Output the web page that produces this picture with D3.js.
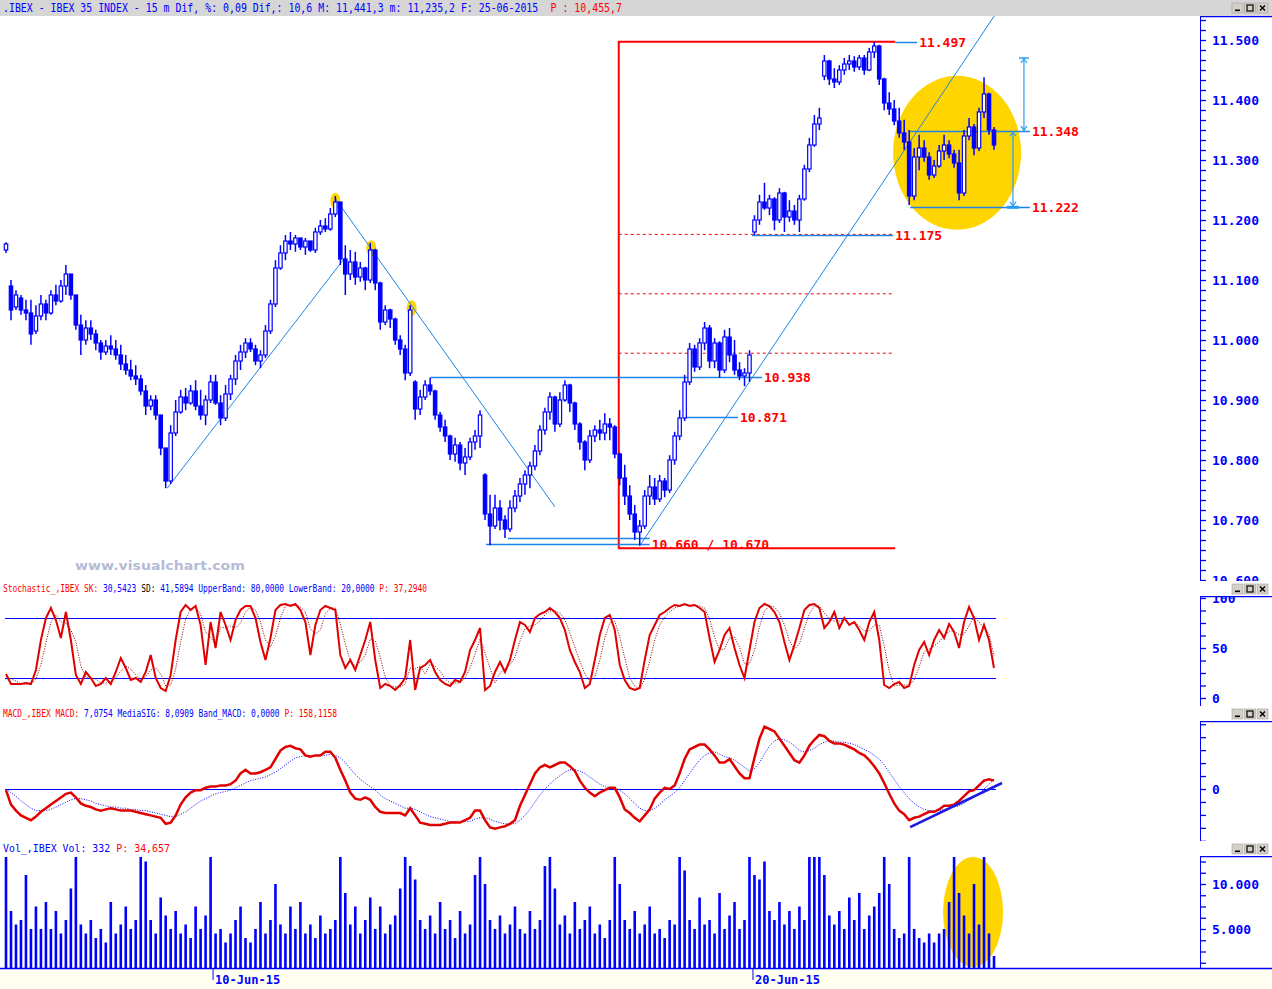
<!DOCTYPE html>
<html>
<head>
<meta charset="utf-8">
<script src="https://cdn.jsdelivr.net/npm/d3@7"></script>
<style>
  body { margin: 0; background: #fff; }
  svg { display: block; }
</style>
</head>
<body>
<svg id="chart" width="1272" height="989"></svg>
<script>
// ---- price bars (15 min, IBEX 35) ----
const opens = [11150,11090,11055,11070,11050,11045,11015,11040,11060,11045,11075,11065,11090,11110,11075,11025,11000,11020,11010,10995,
10980,10990,10985,10975,10960,10950,10940,10935,10915,10890,10900,10875,10820,10765,10845,10880,10905,10895,10915,10890,
10875,10900,10930,10895,10870,10910,10935,10965,10980,10995,10985,10965,10975,11015,11060,11120,11145,11165,11160,11170,
11155,11165,11150,11180,11190,11185,11210,11230,11135,11110,11130,11105,11120,11100,11150,11095,11030,11050,11035,11000,
10985,10945,10930,10885,10905,10925,10915,10875,10855,10840,10810,10825,10795,10805,10830,10840,10775,10710,10690,10720,
10700,10685,10720,10740,10760,10775,10790,10815,10850,10880,10905,10860,10900,10925,10895,10860,10830,10800,10840,10850,
10845,10860,10855,10810,10770,10740,10710,10680,10690,10740,10755,10735,10765,10750,10800,10840,10870,10930,10985,10955,
10995,11020,10965,10995,10950,11005,10975,10950,10940,10945,11180,11200,11230,11220,11235,11200,11245,11205,11215,11200,
11235,11285,11325,11360,11440,11465,11435,11430,11450,11460,11465,11455,11470,11450,11480,11490,11435,11395,11385,11365,
11345,11330,11240,11305,11320,11305,11275,11290,11315,11325,11310,11295,11245,11340,11355,11320,11380,11410,11350];
const highs = [11163,11100,11083,11075,11067,11067,11058,11075,11067,11083,11092,11100,11125,11108,11067,11042,11033,11033,11017,11000,
11000,11008,11000,10992,10975,10967,10958,10942,10925,10908,10908,10867,10817,10858,10900,10917,10920,10925,10933,10917,
10908,10942,10942,10908,10925,10942,10975,10992,11003,11003,10992,10983,11025,11067,11133,11158,11175,11180,11175,11170,
11170,11163,11187,11200,11203,11220,11240,11230,11158,11150,11147,11130,11122,11162,11152,11097,11058,11052,11037,11008,
10992,11058,10933,10917,10933,10937,10917,10880,10867,10842,10837,10830,10820,10837,10850,10883,10778,10742,10742,10733,
10708,10733,10750,10770,10783,10797,10825,10858,10887,10913,10907,10913,10933,10927,10897,10863,10833,10850,10858,10867,
10878,10870,10858,10812,10792,10758,10725,10700,10750,10775,10770,10775,10770,10808,10847,10883,10942,10995,10992,11003,
11030,11025,11003,10998,11017,11020,11000,10963,10953,10983,11208,11242,11262,11242,11238,11253,11247,11233,11225,11242,
11292,11337,11375,11387,11475,11467,11453,11458,11470,11475,11473,11475,11475,11487,11497,11492,11437,11413,11400,11387,
11367,11350,11320,11342,11333,11313,11300,11325,11342,11333,11317,11317,11350,11370,11360,11387,11438,11412,11355];
const lows = [11145,11033,11050,11042,11033,10992,11010,11033,11033,11042,11058,11062,11075,11067,11017,10975,10992,11000,10983,10967,
10975,10975,10967,10950,10942,10933,10925,10908,10875,10883,10867,10808,10753,10760,10840,10877,10883,10892,10883,10867,
10858,10895,10892,10858,10865,10900,10925,10950,10970,10980,10958,10953,10970,11010,11055,11117,11133,11150,11147,11150,
11142,11147,11145,11175,11180,11182,11205,11125,11075,11100,11092,11097,11083,11095,11083,11017,11025,11020,10992,10975,
10933,10940,10867,10875,10900,10908,10867,10847,10830,10800,10797,10783,10775,10800,10817,10820,10700,10658,10685,10683,
10670,10680,10713,10730,10742,10753,10783,10808,10842,10867,10847,10855,10897,10880,10850,10817,10783,10795,10830,10833,
10833,10833,10803,10758,10725,10700,10667,10657,10685,10725,10725,10730,10738,10745,10792,10833,10865,10925,10947,10950,
10983,10953,10953,10937,10945,10963,10942,10933,10923,10930,11175,11192,11217,11208,11183,11195,11180,11197,11192,11180,
11232,11280,11322,11350,11433,11425,11420,11425,11442,11450,11447,11450,11442,11448,11470,11425,11383,11375,11358,11337,
11317,11225,11233,11283,11297,11267,11270,11287,11300,11303,11287,11233,11240,11333,11308,11315,11370,11342,11317];
const closes = [11160,11050,11075,11050,11045,11010,11040,11060,11045,11075,11065,11090,11110,11075,11025,11000,11020,11010,10995,10980,
10990,10985,10975,10960,10950,10940,10935,10915,10890,10900,10875,10820,10765,10845,10880,10905,10895,10915,10890,10875,
10900,10930,10895,10870,10910,10935,10965,10980,10995,10985,10965,10975,11015,11060,11120,11145,11165,11160,11170,11155,
11165,11150,11180,11190,11185,11210,11230,11135,11110,11130,11105,11120,11100,11150,11095,11030,11050,11035,11000,10985,
10945,11050,10885,10905,10925,10915,10875,10855,10840,10810,10825,10795,10805,10830,10840,10875,10710,10690,10720,10700,
10685,10720,10740,10760,10775,10790,10815,10850,10880,10905,10860,10900,10925,10895,10860,10830,10800,10840,10850,10845,
10860,10855,10810,10770,10740,10710,10680,10690,10740,10755,10735,10765,10750,10800,10840,10870,10930,10985,10955,10995,
11020,10965,10995,10950,11005,10975,10950,10940,10945,10975,11200,11230,11220,11235,11200,11245,11205,11215,11200,11235,
11285,11325,11360,11370,11465,11435,11430,11450,11460,11465,11455,11470,11450,11480,11490,11435,11395,11385,11365,11345,
11330,11240,11305,11320,11305,11275,11290,11315,11325,11310,11295,11245,11340,11355,11320,11380,11410,11350,11325];

// ---- stochastic ----
const stochK = [24,14,14,14,15,14,28,58,80,90,78,60,86,58,23,14,26,20,12,14,
20,14,26,40,30,18,20,16,26,43,20,10,7,23,58,86,93,88,92,73,
33,76,50,86,73,58,78,88,92,92,80,56,38,60,88,93,94,92,94,88,
76,43,73,88,92,90,88,43,30,38,28,43,58,76,38,10,14,12,8,13,
20,58,8,30,33,38,26,18,14,12,18,16,26,48,58,70,8,12,26,36,
26,38,58,76,73,66,80,84,86,90,86,80,68,48,36,26,10,14,38,63,
80,83,68,33,18,10,8,10,38,63,73,83,86,90,93,92,94,92,93,90,
86,60,36,48,63,70,50,33,20,48,76,90,94,92,86,76,56,38,53,70,
88,93,94,90,70,76,86,70,80,73,76,68,58,76,86,58,13,10,14,16,
10,12,33,48,56,43,58,68,60,74,66,50,76,91,80,58,73,58,30];
const stochD = [22,19,17,14,14,14,19,33,55,76,83,76,75,68,56,32,21,20,19,15,
15,16,20,27,32,29,23,18,21,28,30,24,12,13,29,56,79,89,91,84,
66,61,53,71,70,72,70,75,86,91,88,76,58,51,62,80,92,93,93,91,
86,69,64,68,84,90,90,74,54,37,32,36,43,59,57,41,21,12,11,11,
14,30,29,32,24,34,32,27,19,15,15,15,20,30,44,59,45,30,15,25,
29,33,41,57,69,72,73,77,83,87,87,85,78,65,51,37,24,17,21,38,
60,75,77,61,40,20,12,9,19,37,58,73,81,86,90,92,93,93,93,92,
90,79,61,48,49,60,61,51,34,34,48,71,87,92,91,85,73,57,49,54,
70,84,92,92,85,79,77,77,79,74,76,72,67,67,73,73,52,27,12,13,
13,13,18,31,46,49,52,56,62,67,67,63,64,72,82,76,70,64,42];
const stochBands = [80, 20];

// ---- MACD ----
const macdLine = [-1,-13,-18,-22,-24,-26,-23,-19,-16,-13,-10,-7,-4,-3,-7,-12,-14,-15,-17,-18,
-17,-16,-17,-18,-18,-18,-19,-20,-21,-22,-23,-24,-29,-28,-22,-13,-7,-3,-1,-1,
1,2,2,3,3,4,7,13,16,13,13,14,16,18,25,32,35,36,34,33,
28,27,28,28,31,31,26,16,7,-3,-8,-9,-7,-9,-15,-19,-20,-20,-20,-20,
-22,-16,-22,-28,-29,-30,-30,-30,-29,-28,-28,-28,-26,-24,-18,-18,-26,-32,-33,-32,
-31,-29,-26,-14,-5,4,13,18,20,18,20,22,22,19,15,7,1,-3,-6,-3,
-1,1,1,-7,-17,-20,-24,-27,-22,-17,-8,-3,1,0,3,13,25,33,35,37,
37,33,28,22,22,25,19,13,9,9,26,42,52,50,48,42,36,30,24,22,
28,36,41,45,44,40,38,38,37,35,33,30,28,24,19,13,5,-4,-12,-18,
-21,-26,-24,-23,-21,-19,-19,-17,-14,-14,-13,-10,-6,-2,-1,3,7,8,7];
const macdSignal = [0,-3,-6,-10,-13,-16,-18,-18,-18,-17,-15,-13,-11,-9,-8,-8,-9,-10,-12,-13,
-14,-15,-15,-16,-16,-17,-17,-18,-18,-19,-20,-21,-22,-23,-23,-21,-19,-16,-13,-10,
-8,-6,-4,-3,-2,-1,1,3,5,7,8,9,10,12,14,17,20,23,26,27,
28,28,28,28,28,29,28,26,22,17,12,8,5,2,-1,-5,-8,-10,-12,-14,
-16,-16,-17,-19,-21,-23,-24,-25,-26,-27,-27,-27,-27,-27,-25,-24,-24,-25,-27,-28,
-29,-29,-29,-26,-22,-17,-11,-5,0,4,8,11,14,16,16,15,13,10,7,4,
2,1,1,-1,-4,-8,-12,-16,-18,-18,-16,-13,-9,-6,-3,1,7,13,19,24,
28,30,31,29,27,26,24,21,18,15,17,22,29,36,40,42,41,39,36,32,
31,32,34,37,39,40,40,39,39,38,37,35,33,31,28,25,20,14,8,2,
-3,-8,-12,-15,-17,-18,-18,-18,-17,-16,-15,-14,-12,-9,-7,-4,0,4,8];

// ---- volume ----
const volumes = [13000,7000,5500,6000,11000,5000,7500,5000,8000,5000,7000,4500,6000,9500,13000,5500,4500,6000,4000,5000,
3500,8000,4500,5500,7500,5000,6000,13000,12500,6000,4500,8500,6500,5000,7000,4500,5500,4000,7500,5000,
6500,13000,4500,5000,3500,4500,6000,7500,4000,3500,5000,8000,4500,6000,10000,5500,4500,7500,5000,8000,
4500,5500,4000,6500,4500,5000,6000,13000,9000,5500,7500,4500,6000,8500,5000,7500,4500,5500,6500,9500,
13000,12000,10500,6000,5000,6500,4500,8000,5000,6000,4000,7000,4500,5500,11000,13000,10000,6000,5000,6500,
4500,5500,7500,5000,4500,7000,5000,6000,12000,13000,9500,5500,6500,4500,8000,5000,6000,7500,4500,5500,
4000,6000,13000,10000,6000,5000,7000,4500,5500,7500,4500,5000,4000,6000,5500,13000,11500,6000,5000,8500,
5500,6000,4500,9000,5000,6500,8000,5000,6000,13000,11000,10500,12500,7000,6000,8000,5500,7000,5000,7500,
6000,13000,13000,13000,11000,6500,5500,7000,5000,8500,6000,9000,5000,6500,7500,9000,13000,10000,5000,4000,
4500,13000,5000,4000,3500,4500,3500,4500,5000,8000,13000,9000,6500,4500,10000,5500,13000,4500,2000];

// ---- axes / labels ----
const priceTickLabels = [10600,10700,10800,10900,11000,11100,11200,11300,11400,11500];
const stochTickLabels = [0, 50, 100];
const macdTickLabels = [0];
const volTickLabels = [5000, 10000];
const dateLabels = ["10-Jun-15", "20-Jun-15"];
const dateIndex = [41.5, 149.7];

// ---- drawings on the price panel ----
const levelValues = [11497, 11348, 11222, 11175, 10938, 10871, 10660, 10670];
const levelLabels = ["11.497", "11.348", "11.222", "11.175", "10.938", "10.871", "10.660 / 10.670", ""];
const levelFrom = [178.2, 181.2, 181.2, 149.5, 85, 136.3, 96.2, 100.6];
const levelTo = [182.6, 205.2, 205.2, 177.8, 151.5, 146.7, 129, 129];
const fibValues = [11176, 11077, 10978];
const rangeHigh = 11497, rangeLow = 10653, rangeFrom = 122.8, rangeTo = 178.2;
const trendLines = [[32.3, 10753, 67.9, 11137], [65.9, 11237, 110, 10722], [127, 10657, 198.2, 11542]];
const pivotIndex = [66, 73.2, 81.3];
const pivotValues = [11232, 11153, 11053];
const ellipseIndex = 190.6, ellipseValue = 11312;
const arrowIndex = [204, 201.8];
const arrowFrom = [11470, 11348];
const arrowTo = [11348, 11222];
const macdTrend = [181.2, -31.7, 199.6, 5];
const volEllipseIndex = 193.8, volEllipseValue = 6890;

const N = closes.length;
const svg = d3.select("#chart");
const AX = 1200;
const blue = "#0000ff", red = "#ff0000", lineBlue = "#1e84e6", gold = "#ffd500";
const mono = "'DejaVu Sans Mono', 'Liberation Mono', monospace";
const loc = d3.formatLocale({ decimal: ",", thousands: ".", grouping: [3], currency: ["", ""] });
const fmt = loc.format(",.0f");

const x = d3.scaleLinear().domain([0, N - 1]).range([6, 994]);
const yMain = d3.scaleLinear().domain([10600, 11500]).range([580, 40]);
const yStoch = d3.scaleLinear().domain([0, 100]).range([698, 598]);
const yMacd = d3.scaleLinear().domain([0, 50]).range([789, 729]);
const yVol = d3.scaleLinear().domain([0, 10000]).range([974, 884]);

const panels = {
  main: { top: 16, bottom: 581 },
  stoch: { top: 596, bottom: 706 },
  macd: { top: 721, bottom: 841 },
  vol: { top: 856, bottom: 968 }
};

const defs = svg.append("defs");
Object.entries(panels).forEach(([k, p]) => {
  defs.append("clipPath").attr("id", "clip-" + k)
    .append("rect").attr("x", 0).attr("y", p.top).attr("width", AX).attr("height", p.bottom - p.top);
  defs.append("clipPath").attr("id", "clipax-" + k)
    .append("rect").attr("x", AX).attr("y", p.top).attr("width", 72).attr("height", p.bottom - p.top);
});

svg.append("rect").attr("width", 1272).attr("height", 989).attr("fill", "#fff");
// title bar
svg.append("rect").attr("width", 1272).attr("height", 16).attr("fill", "#d6d6d6");
// date strip
svg.append("rect").attr("y", 969).attr("width", 1272).attr("height", 20).attr("fill", "#fffff2");

// window buttons
function buttons(y) {
  const g = svg.append("g").attr("transform", `translate(1232,${y})`);
  [0, 12.5, 25].forEach((bx, k) => {
    g.append("rect").attr("x", bx).attr("y", 0).attr("width", 11).attr("height", 10)
      .attr("fill", "#d4d0c8").attr("stroke", "#a0a0a0").attr("stroke-width", 0.6);
    if (k === 0) g.append("rect").attr("x", bx + 3).attr("y", 6.5).attr("width", 5).attr("height", 1.6).attr("fill", "#000");
    if (k === 1) g.append("rect").attr("x", bx + 2.5).attr("y", 2).attr("width", 6).attr("height", 6)
      .attr("fill", "none").attr("stroke", "#000").attr("stroke-width", 1.2);
    if (k === 2) g.append("path").attr("d", `M${bx + 3},2.5L${bx + 8},7.5M${bx + 8},2.5L${bx + 3},7.5`)
      .attr("stroke", "#000").attr("stroke-width", 1.4);
  });
}
buttons(3); buttons(584); buttons(709); buttons(844);

// header texts: each coloured part is its own text on a monospace grid,
// font size picked so the natural width fits, then stretched vertically
function header(y, len, height, parts) {
  const total = parts.reduce((s, p) => s + p[0].length, 0);
  const cw = len / total;
  const size = cw / 0.602;
  const sy = height / size;
  let off = 0;
  parts.forEach(([s, c]) => {
    const shown = s.trimEnd();
    svg.append("text")
      .attr("transform", `translate(${3 + off * cw},${y}) scale(1,${sy})`)
      .attr("font-family", "'DejaVu Sans Mono', monospace").attr("font-size", size)
      .attr("fill", c).text(shown);
    off += s.length;
  });
}
header(12, 619, 12, [[".IBEX - IBEX 35 INDEX -  15 m Dif, %: 0,09 Dif,: 10,6 M: 11,441,3 m: 11,235,2 F: 25-06-2015 ", blue], ["P : 10,455,7", red]]);
header(592, 424, 11, [["Stochastic_,IBEX SK: ", red], ["30,5423 ", blue], ["SD: ", "#000"], ["41,5894 UpperBand: 80,0000 LowerBand: 20,0000 ", blue], ["P: 37,2940", red]]);
header(717, 334, 11, [["MACD_,IBEX MACD: ", red], ["7,0754 MediaSIG: 8,0909 Band_MACD: 0,0000 ", blue], ["P: 158,1158", red]]);
header(852, 167, 11, [["Vol_,IBEX Vol: 332 ", blue], ["P: 34,657", red]]);

// right axes
function rightAxis(key, scale, ticks, labels) {
  const p = panels[key];
  const g = svg.append("g").attr("clip-path", `url(#clipax-${key})`);
  g.append("line").attr("x1", AX).attr("x2", AX).attr("y1", p.top).attr("y2", p.bottom)
    .attr("stroke", blue).attr("stroke-width", 2);
  g.append("line").attr("x1", AX).attr("x2", 1272).attr("y1", p.top + 0.5).attr("y2", p.top + 0.5)
    .attr("stroke", blue).attr("stroke-width", 1.5);
  const ax = g.append("g").attr("transform", `translate(${AX},0)`)
    .call(d3.axisRight(scale).tickValues(ticks).tickSize(6).tickFormat(() => ""));
  ax.select(".domain").remove();
  ax.selectAll(".tick line").attr("stroke", blue).attr("stroke-width", 1.3);
  g.selectAll(".lbl").data(labels).enter().append("text")
    .attr("x", AX + 12).attr("y", d => scale(d) + 5)
    .attr("font-family", mono).attr("font-weight", "bold").attr("font-size", 13)
    .attr("fill", blue).text(d => fmt(d));
}
rightAxis("main", yMain, d3.range(0, 57).map(k => 10600 + k * 100 / 6), priceTickLabels);
rightAxis("stoch", yStoch, d3.range(0, 9).map(k => k * 12.5), stochTickLabels);
rightAxis("macd", yMacd, d3.range(-4, 6).map(k => k * 10.8), macdTickLabels);
rightAxis("vol", yVol, d3.range(1, 11).map(k => k * 1250), volTickLabels);

// bottom axis line + dates
svg.append("line").attr("x1", 0).attr("x2", 1272).attr("y1", 968.5).attr("y2", 968.5)
  .attr("stroke", blue).attr("stroke-width", 1.5);
dateLabels.forEach((d, k) => {
  const xx = x(dateIndex[k]);
  svg.append("line").attr("x1", xx).attr("x2", xx).attr("y1", 969).attr("y2", 980).attr("stroke", blue);
  svg.append("text").attr("x", xx + 2).attr("y", 984)
    .attr("font-family", mono).attr("font-weight", "bold").attr("font-size", 12)
    .attr("fill", blue).text(d);
});

// ---------- main price panel ----------
const gMain = svg.append("g").attr("clip-path", "url(#clip-main)");

svg.append("text").attr("x", 75).attr("y", 570)
  .attr("font-family", "'DejaVu Sans', sans-serif").attr("font-weight", "bold").attr("font-size", 13)
  .attr("textLength", 170).attr("lengthAdjust", "spacingAndGlyphs")
  .attr("fill", "#b4bcd6").text("www.visualchart.com");

// yellow highlight
gMain.append("ellipse").attr("cx", x(ellipseIndex)).attr("cy", yMain(ellipseValue))
  .attr("rx", 64).attr("ry", 77).attr("fill", gold);
gMain.selectAll(".pivot").data(pivotIndex).enter().append("ellipse")
  .attr("cx", d => x(d)).attr("cy", (d, i) => yMain(pivotValues[i]))
  .attr("rx", 5).attr("ry", 8).attr("fill", gold);

// fibonacci dashed levels + range bracket
gMain.selectAll(".fib").data(fibValues).enter().append("line")
  .attr("x1", x(rangeFrom)).attr("x2", x(rangeTo) - 2)
  .attr("y1", d => yMain(d)).attr("y2", d => yMain(d))
  .attr("stroke", red).attr("stroke-width", 1).attr("stroke-dasharray", "3,3");
gMain.append("path")
  .attr("d", `M${x(rangeTo)},${yMain(rangeHigh)}H${x(rangeFrom)}V${yMain(rangeLow)}H${x(rangeTo)}`)
  .attr("fill", "none").attr("stroke", red).attr("stroke-width", 2);

// trend lines
gMain.selectAll(".trend").data(trendLines).enter().append("line")
  .attr("x1", d => x(d[0])).attr("y1", d => yMain(d[1]))
  .attr("x2", d => x(d[2])).attr("y2", d => yMain(d[3]))
  .attr("stroke", lineBlue).attr("stroke-width", 1);

// level lines
gMain.selectAll(".lvl").data(levelValues).enter().append("line")
  .attr("x1", (d, i) => x(levelFrom[i])).attr("x2", (d, i) => x(levelTo[i]))
  .attr("y1", d => Math.round(yMain(d)) + 0.5).attr("y2", d => Math.round(yMain(d)) + 0.5)
  .attr("stroke", lineBlue).attr("stroke-width", 1.5);

// candles
const cw = 3.4;
const candle = gMain.selectAll(".candle").data(closes).enter().append("g");
candle.append("line")
  .attr("x1", (d, i) => x(i)).attr("x2", (d, i) => x(i))
  .attr("y1", (d, i) => yMain(highs[i])).attr("y2", (d, i) => yMain(lows[i]))
  .attr("stroke", blue).attr("stroke-width", 1.5);
candle.append("rect")
  .attr("x", (d, i) => x(i) - cw / 2)
  .attr("y", (d, i) => yMain(Math.max(opens[i], d)))
  .attr("width", cw)
  .attr("height", (d, i) => Math.max(1, Math.abs(yMain(opens[i]) - yMain(d))))
  .attr("fill", (d, i) => d >= opens[i] ? "#fff" : blue)
  .attr("stroke", blue).attr("stroke-width", 1.2);

// measuring arrows
arrowIndex.forEach((ai, k) => {
  const xx = x(ai), y1 = yMain(arrowFrom[k]), y2 = yMain(arrowTo[k]);
  gMain.append("line").attr("x1", xx).attr("x2", xx).attr("y1", y1).attr("y2", y2)
    .attr("stroke", "#2a9cf0").attr("stroke-width", 1.2);
  gMain.append("path").attr("d", `M${xx - 3},${y1 + 5}L${xx},${y1 + 1}L${xx + 3},${y1 + 5}M${xx - 3},${y2 - 5}L${xx},${y2 - 1}L${xx + 3},${y2 - 5}`)
    .attr("fill", "none").attr("stroke", "#2a9cf0").attr("stroke-width", 1.2);
});
gMain.append("line").attr("x1", x(arrowIndex[0]) - 5).attr("x2", x(arrowIndex[0]) + 5)
  .attr("y1", yMain(arrowFrom[0])).attr("y2", yMain(arrowFrom[0])).attr("stroke", "#2a9cf0").attr("stroke-width", 1.5);
gMain.append("line").attr("x1", x(arrowIndex[1]) - 6).attr("x2", x(arrowIndex[1]) + 6)
  .attr("y1", yMain(arrowTo[1]) + 0.5).attr("y2", yMain(arrowTo[1]) + 0.5).attr("stroke", "#2a9cf0").attr("stroke-width", 3);

// level labels
gMain.selectAll(".lvlTxt").data(levelLabels).enter().append("text")
  .attr("x", (d, i) => x(levelTo[i]) + 2).attr("y", (d, i) => yMain(levelValues[i]) + 5)
  .attr("font-family", mono).attr("font-weight", "bold").attr("font-size", 13)
  .attr("fill", red).text(d => d);

// ---------- stochastic ----------
const gSt = svg.append("g").attr("clip-path", "url(#clip-stoch)");
gSt.selectAll(".band").data(stochBands).enter().append("line")
  .attr("x1", 5).attr("x2", 996).attr("y1", d => yStoch(d) + 0.5).attr("y2", d => yStoch(d) + 0.5)
  .attr("stroke", blue).attr("stroke-width", 1);
gSt.append("path").datum(stochD)
  .attr("d", d3.line().x((d, i) => x(i)).y(d => yStoch(d)))
  .attr("fill", "none").attr("stroke", "#900000").attr("stroke-width", 1).attr("stroke-dasharray", "1,1.5");
gSt.append("path").datum(stochK)
  .attr("d", d3.line().x((d, i) => x(i)).y(d => yStoch(d)))
  .attr("fill", "none").attr("stroke", "#e00000").attr("stroke-width", 2);

// ---------- MACD ----------
const gM = svg.append("g").attr("clip-path", "url(#clip-macd)");
gM.append("line").attr("x1", 5).attr("x2", 996).attr("y1", yMacd(0) + 0.5).attr("y2", yMacd(0) + 0.5)
  .attr("stroke", blue).attr("stroke-width", 1);
gM.append("path").datum(macdSignal)
  .attr("d", d3.line().x((d, i) => x(i)).y(d => yMacd(d)))
  .attr("fill", "none").attr("stroke", blue).attr("stroke-width", 1).attr("stroke-dasharray", "1,1.5");
gM.append("path").datum(macdLine)
  .attr("d", d3.line().x((d, i) => x(i)).y(d => yMacd(d)))
  .attr("fill", "none").attr("stroke", "#e00000").attr("stroke-width", 2.5);
gM.append("line")
  .attr("x1", x(macdTrend[0])).attr("y1", yMacd(macdTrend[1]))
  .attr("x2", x(macdTrend[2])).attr("y2", yMacd(macdTrend[3]))
  .attr("stroke", "#1a1ae0").attr("stroke-width", 2.5);

// ---------- volume ----------
const gV = svg.append("g").attr("clip-path", "url(#clip-vol)");
gV.append("ellipse").attr("cx", x(volEllipseIndex)).attr("cy", yVol(volEllipseValue))
  .attr("rx", 30).attr("ry", 55).attr("fill", gold);
gV.selectAll(".vbar").data(volumes).enter().append("rect")
  .attr("x", (d, i) => x(i) - 1.3).attr("width", 2.6)
  .attr("y", d => yVol(d)).attr("height", d => 968 - yVol(d))
  .attr("fill", blue);
</script>
</body>
</html>
